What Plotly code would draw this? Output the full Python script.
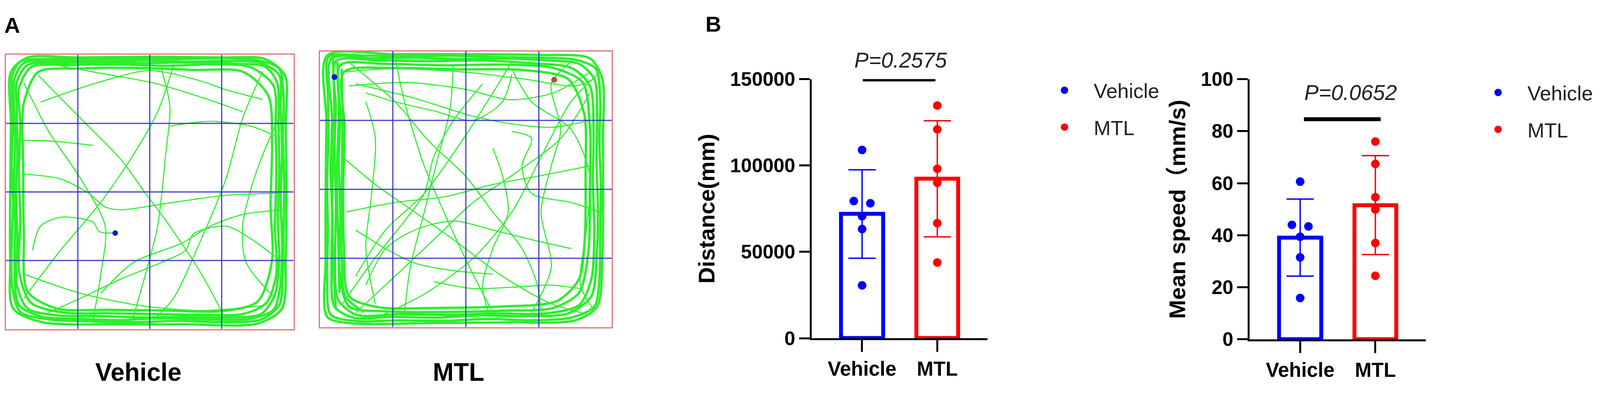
import plotly.graph_objects as go

##############################################
# Data
##############################################

GROUPS = ["Vehicle", "MTL"]

DIST_MEAN = [71900, 92300]
DIST_SD = [25600, 33600]
DIST_VEH = [109000, 79400, 78100, 70600, 63200, 30600]
DIST_MTL = [134700, 120900, 98100, 90000, 66600, 43800]

SPEED_MEAN = [39.1, 51.6]
SPEED_SD = [14.8, 19.0]
SPEED_VEH = [60.6, 44.0, 43.4, 39.4, 31.5, 15.9]
SPEED_MTL = [76.0, 67.4, 54.6, 49.9, 37.0, 24.4]

# horizontal scatter of the dots around the category centre
JIT_VEH = [0, -0.11, 0.11, 0, 0, 0]
JIT_MTL = [0, 0, 0, 0, 0, 0]

P_DIST = "P=0.2575"
P_SPEED = "P=0.0652"

# open field arena: 4 x 4 squares, coordinates in squares from top-left
ARENA = 4
GRID = [1, 2, 3]

VEH_LOOPS = [
    [(0.09, 0.30), (0.20, 0.10), (0.6, 0.06), (1.2, 0.07), (1.8, 0.05), (2.4, 0.06), (3.0, 0.05), (3.50, 0.08),
     (3.80, 0.20), (3.86, 0.6), (3.85, 1.2), (3.87, 1.9), (3.86, 2.6), (3.85, 3.2), (3.80, 3.65), (3.55, 3.86),
     (3.0, 3.90), (2.4, 3.88), (1.8, 3.90), (1.2, 3.89), (0.6, 3.86), (0.20, 3.75), (0.09, 3.4), (0.08, 2.8),
     (0.10, 2.2), (0.08, 1.6), (0.10, 1.0), (0.09, 0.30)],
    [(0.12, 0.35), (0.25, 0.12), (0.7, 0.09), (1.3, 0.10), (1.9, 0.08), (2.5, 0.10), (3.1, 0.09), (3.55, 0.12),
     (3.80, 0.30), (3.82, 0.8), (3.84, 1.4), (3.82, 2.1), (3.84, 2.8), (3.81, 3.4), (3.72, 3.72), (3.40, 3.85),
     (2.8, 3.86), (2.2, 3.84), (1.6, 3.87), (1.0, 3.85), (0.5, 3.82), (0.18, 3.65), (0.12, 3.1), (0.13, 2.5),
     (0.11, 1.9), (0.13, 1.2), (0.12, 0.35)],
    [(0.15, 0.40), (0.30, 0.15), (0.8, 0.12), (1.4, 0.11), (2.0, 0.12), (2.6, 0.11), (3.2, 0.13), (3.60, 0.17),
     (3.77, 0.40), (3.79, 1.0), (3.80, 1.7), (3.78, 2.4), (3.80, 3.0), (3.74, 3.5), (3.55, 3.78), (3.1, 3.83),
     (2.5, 3.82), (1.9, 3.83), (1.3, 3.81), (0.7, 3.80), (0.30, 3.70), (0.15, 3.35), (0.16, 2.7), (0.14, 2.0),
     (0.16, 1.4), (0.15, 0.8), (0.15, 0.40)],
    [(0.18, 0.50), (0.35, 0.18), (0.9, 0.15), (1.6, 0.14), (2.2, 0.16), (2.9, 0.14), (3.40, 0.18), (3.72, 0.45),
     (3.75, 1.1), (3.76, 1.8), (3.74, 2.5), (3.76, 3.2), (3.62, 3.62), (3.30, 3.78), (2.7, 3.79), (2.0, 3.78),
     (1.4, 3.77), (0.8, 3.76), (0.35, 3.62), (0.19, 3.2), (0.20, 2.4), (0.18, 1.7), (0.20, 1.0), (0.18, 0.50)],
    [(0.25, 0.70), (0.45, 0.25), (1.0, 0.20), (1.8, 0.19), (2.6, 0.22), (3.30, 0.25), (3.65, 0.6), (3.70, 1.3),
     (3.68, 2.2), (3.70, 3.0), (3.50, 3.6), (3.0, 3.74), (2.2, 3.73), (1.4, 3.72), (0.7, 3.70), (0.30, 3.45),
     (0.25, 2.6), (0.24, 1.6), (0.25, 0.70)],
    [(0.07, 0.25), (0.30, 0.04), (1.0, 0.04), (2.0, 0.03), (3.0, 0.04), (3.60, 0.06), (3.88, 0.30), (3.89, 1.0),
     (3.90, 2.0), (3.89, 3.0), (3.84, 3.70), (3.50, 3.92), (2.5, 3.93), (1.5, 3.93), (0.5, 3.90), (0.10, 3.70),
     (0.06, 3.0), (0.06, 2.0), (0.07, 1.0), (0.07, 0.25)],
]

VEH_PATHS = [
    [(0.45, 0.30), (1.04, 0.93), (1.60, 1.53), (1.94, 2.02), (2.28, 2.50), (2.72, 3.20), (3.06, 3.87)],
    [(0.25, 3.55), (0.76, 2.85), (1.32, 2.15), (1.77, 1.46), (2.11, 0.83), (2.33, 0.16)],
    [(0.48, 0.69), (1.26, 0.41), (1.99, 0.23), (2.67, 0.37), (3.06, 0.51), (3.57, 0.65)],
    [(0.17, 1.25), (0.65, 1.26), (1.21, 1.32)],
    [(3.79, 2.02), (3.06, 2.05), (2.28, 2.16), (1.60, 2.26), (1.38, 2.22), (1.15, 2.02), (0.76, 1.81), (0.25, 1.74)],
    [(1.52, 2.60), (1.30, 2.58), (1.21, 2.44), (0.76, 2.37), (0.48, 2.50), (0.37, 2.85)],
    [(2.16, 0.20), (2.28, 0.76), (2.22, 1.46), (2.11, 2.50), (1.94, 3.20), (1.77, 3.83)],
    [(3.57, 0.24), (3.29, 0.93), (3.06, 1.81), (2.72, 2.68), (2.33, 3.55), (2.05, 3.87)],
    [(3.85, 3.03), (3.40, 2.68), (3.06, 2.50), (2.61, 2.61), (2.50, 2.85), (2.16, 3.03), (1.60, 3.27), (1.04, 3.55),
     (0.59, 3.76)],
    [(0.25, 0.41), (0.59, 1.11), (1.04, 1.81), (1.38, 2.50), (1.32, 3.20), (1.21, 3.87)],
    [(2.28, 1.04), (2.84, 0.97), (3.40, 1.04), (3.74, 1.18)],
    [(3.79, 0.93), (3.57, 1.46), (3.40, 1.98), (3.29, 2.50), (3.34, 3.03), (3.74, 3.55)],
    [(0.59, 0.13), (1.32, 0.27), (2.05, 0.41), (2.72, 0.62), (3.29, 0.83)],
    [(0.25, 3.20), (1.04, 3.48), (1.88, 3.66), (2.72, 3.73), (3.57, 3.66)],
    [(1.32, 3.48), (1.77, 3.03), (2.44, 2.75), (2.84, 2.50), (3.29, 2.33), (3.85, 2.26)],
]

MTL_LOOPS = [
    [(0.12, 0.08), (0.6, 0.06), (1.2, 0.07), (1.8, 0.06), (2.4, 0.08), (3.0, 0.09), (3.50, 0.12), (3.78, 0.25),
     (3.84, 0.7), (3.83, 1.3), (3.85, 2.0), (3.84, 2.7), (3.83, 3.3), (3.76, 3.70), (3.45, 3.86), (2.9, 3.90),
     (2.3, 3.88), (1.7, 3.91), (1.1, 3.90), (0.5, 3.91), (0.15, 3.82), (0.10, 3.3), (0.11, 2.6), (0.10, 1.9),
     (0.12, 1.2), (0.11, 0.6), (0.12, 0.08)],
    [(0.16, 0.10), (0.7, 0.10), (1.3, 0.09), (1.9, 0.11), (2.5, 0.10), (3.1, 0.13), (3.55, 0.18), (3.76, 0.40),
     (3.80, 0.9), (3.79, 1.6), (3.81, 2.3), (3.79, 3.0), (3.72, 3.55), (3.40, 3.80), (2.8, 3.84), (2.2, 3.83),
     (1.6, 3.86), (1.0, 3.85), (0.45, 3.86), (0.20, 3.70), (0.16, 3.1), (0.17, 2.4), (0.15, 1.7), (0.17, 1.0),
     (0.16, 0.10)],
    [(0.22, 0.14), (0.8, 0.13), (1.5, 0.14), (2.2, 0.13), (2.9, 0.17), (3.45, 0.24), (3.70, 0.50), (3.75, 1.2),
     (3.74, 1.9), (3.76, 2.6), (3.72, 3.3), (3.55, 3.68), (3.1, 3.80), (2.4, 3.80), (1.8, 3.82), (1.1, 3.81),
     (0.5, 3.82), (0.25, 3.60), (0.21, 2.9), (0.22, 2.2), (0.20, 1.5), (0.22, 0.8), (0.22, 0.14)],
    [(0.28, 0.20), (0.9, 0.18), (1.7, 0.20), (2.5, 0.19), (3.2, 0.24), (3.60, 0.45), (3.70, 1.1), (3.70, 2.0),
     (3.68, 2.9), (3.55, 3.50), (3.20, 3.72), (2.5, 3.76), (1.7, 3.78), (0.9, 3.77), (0.40, 3.70), (0.27, 3.2),
     (0.28, 2.4), (0.26, 1.6), (0.28, 0.9), (0.28, 0.20)],
    [(0.33, 0.30), (1.0, 0.24), (1.9, 0.26), (2.8, 0.27), (3.40, 0.40), (3.62, 0.9), (3.64, 1.8), (3.63, 2.7),
     (3.55, 3.3), (3.25, 3.62), (2.5, 3.70), (1.6, 3.72), (0.8, 3.71), (0.40, 3.55), (0.33, 2.8), (0.32, 2.0),
     (0.34, 1.1), (0.33, 0.30)],
    [(0.10, 0.06), (1.0, 0.04), (2.0, 0.04), (3.0, 0.05), (3.70, 0.10), (3.87, 0.40), (3.88, 1.2), (3.88, 2.1),
     (3.87, 3.0), (3.80, 3.70), (3.50, 3.90), (2.5, 3.93), (1.5, 3.94), (0.4, 3.94), (0.10, 3.85), (0.08, 3.0),
     (0.08, 2.0), (0.09, 1.0), (0.10, 0.06)],
    [(0.30, 0.25), (0.31, 1.0), (0.30, 2.0), (0.30, 3.0), (0.35, 3.55), (0.60, 3.78)],
    [(0.18, 0.10), (0.20, 1.0), (0.17, 2.0), (0.18, 3.0), (0.22, 3.75)],
    [(0.24, 0.15), (0.26, 0.9), (0.23, 1.8), (0.25, 2.7), (0.27, 3.5)],
]

MTL_PATHS = [
    [(0.39, 0.15), (1.03, 0.73), (1.51, 1.32), (1.99, 1.80), (2.37, 2.33), (2.77, 2.86), (2.98, 3.39), (3.03, 3.79)],
    [(3.81, 0.33), (3.44, 0.73), (3.03, 1.53), (2.63, 2.33), (2.10, 3.00), (1.43, 3.52), (0.76, 3.87)],
    [(0.49, 3.26), (0.90, 2.59), (1.43, 2.06), (1.97, 1.26), (2.37, 0.60), (2.63, 0.15)],
    [(0.31, 1.53), (0.76, 1.93), (1.30, 2.33), (1.83, 2.73), (2.50, 3.26), (3.17, 3.66), (3.70, 3.82)],
    [(1.03, 0.09), (1.16, 0.73), (1.43, 1.66), (1.70, 2.33), (2.05, 3.13), (2.37, 3.79)],
    [(3.70, 0.60), (3.30, 1.26), (2.63, 1.80), (2.10, 2.19), (1.56, 2.73), (1.03, 3.26), (0.49, 3.79)],
    [(0.63, 0.73), (0.76, 1.26), (0.71, 2.06), (0.63, 2.86), (0.76, 3.66)],
    [(1.83, 0.20), (1.78, 0.86), (1.62, 1.53), (1.43, 2.33), (1.24, 3.13), (1.16, 3.79)],
    [(2.63, 0.25), (2.90, 0.73), (3.44, 1.13), (3.70, 1.80), (3.65, 2.59), (3.57, 3.39), (3.76, 3.76)],
    [(0.49, 0.47), (1.30, 0.68), (2.10, 0.94), (2.63, 1.05), (3.17, 1.10), (3.70, 1.00)],
    [(0.36, 2.33), (1.03, 2.19), (1.70, 2.11), (2.37, 1.93), (3.03, 1.80), (3.70, 1.66)],
    [(2.90, 3.79), (3.17, 3.13), (3.03, 2.33), (3.17, 1.66), (3.30, 1.13), (3.17, 0.47), (3.44, 0.15)],
    [(1.56, 3.34), (2.10, 3.44), (2.63, 3.42), (3.17, 3.39), (3.57, 3.44)],
    [(0.49, 2.59), (0.90, 2.86), (1.30, 3.07), (1.83, 3.18), (2.37, 3.23)],
    [(2.37, 1.40), (2.50, 1.80), (2.58, 2.33), (2.37, 2.86), (2.23, 3.39), (2.31, 3.79)],
    [(0.31, 3.66), (0.76, 2.99), (1.16, 2.46), (1.43, 2.06), (1.56, 1.53), (1.83, 1.00), (2.23, 0.47)],
    [(2.63, 0.33), (2.50, 0.73), (2.10, 1.00), (1.56, 0.86), (1.03, 0.73), (0.63, 0.60)],
    [(3.44, 2.86), (2.90, 2.73), (2.37, 2.59), (1.83, 2.46), (1.30, 2.59), (0.90, 2.86), (0.63, 3.39)],
    [(3.84, 2.33), (3.44, 2.19), (2.90, 2.06), (2.77, 1.66), (2.90, 1.26), (2.63, 1.16)],
    [(0.30, 0.30), (1.00, 0.25), (2.00, 0.30), (2.80, 0.40), (3.50, 0.50), (3.75, 0.40)],
    [(0.40, 0.50), (1.20, 0.45), (2.00, 0.55), (2.60, 0.70), (3.20, 0.60), (3.70, 0.30)],
]

# start / end markers of the tracks
VEH_DOTS_X, VEH_DOTS_Y, VEH_DOTS_C = [1.52], [2.60], ["#0a14d8"]
MTL_DOTS_X, MTL_DOTS_Y, MTL_DOTS_C = [0.20, 3.21], [0.37, 0.41], ["#0a14d8", "#b0502a"]

##############################################
# Style
##############################################

FONT = "Arial, Liberation Sans, Noto Sans CJK SC, sans-serif"
BLUE = "#0000ff"
RED = "#ff0000"
COLORS = [BLUE, RED]
GREEN = "rgb(45,238,45)"
GRID_BLUE = "rgba(45,45,200,0.9)"
BOX_RED = "#e07474"

fig = go.Figure()

########################################################
# Panel A: track plots
########################################################


def add_tracks(paths, width, xa, ya):
    xs, ys = [], []
    for p in paths:
        xs += [pt[0] for pt in p] + [None]
        ys += [pt[1] for pt in p] + [None]
    fig.add_trace(go.Scatter(
        x=xs, y=ys, mode="lines",
        line=dict(color=GREEN, width=width, shape="spline", smoothing=0.8),
        xaxis=xa, yaxis=ya, showlegend=False, hoverinfo="skip"
    ))


def add_grid(xa, ya):
    for g in GRID:
        fig.add_trace(go.Scatter(x=[g, g], y=[0, ARENA], mode="lines",
                                 line=dict(color=GRID_BLUE, width=3),
                                 xaxis=xa, yaxis=ya, showlegend=False, hoverinfo="skip"))
        fig.add_trace(go.Scatter(x=[0, ARENA], y=[g, g], mode="lines",
                                 line=dict(color=GRID_BLUE, width=3),
                                 xaxis=xa, yaxis=ya, showlegend=False, hoverinfo="skip"))


add_tracks(VEH_LOOPS, 6, "x", "y")
add_tracks(VEH_PATHS, 2.8, "x", "y")
add_grid("x", "y")
fig.add_trace(go.Scatter(x=VEH_DOTS_X, y=VEH_DOTS_Y, mode="markers",
                         marker=dict(color=VEH_DOTS_C, size=14),
                         xaxis="x", yaxis="y", showlegend=False))

add_tracks(MTL_LOOPS, 6, "x2", "y2")
add_tracks(MTL_PATHS, 2.8, "x2", "y2")
add_grid("x2", "y2")
fig.add_trace(go.Scatter(x=MTL_DOTS_X, y=MTL_DOTS_Y, mode="markers",
                         marker=dict(color=MTL_DOTS_C, size=15),
                         xaxis="x2", yaxis="y2", showlegend=False))

########################################################
# Panel B: bar + dot plots
########################################################


def add_bars(means, sds, veh, mtl, xa, ya, legend, tag):
    for i, (m, s) in enumerate(zip(means, sds)):
        fig.add_trace(go.Bar(
            x=[i], y=[m], width=0.56,
            marker=dict(color="rgba(0,0,0,0)", line=dict(color=COLORS[i], width=10)),
            error_y=dict(type="data", array=[s], color=COLORS[i], thickness=3.5, width=35),
            xaxis=xa, yaxis=ya, showlegend=False, hoverinfo="skip"
        ))
    for i, (vals, jit) in enumerate([(veh, JIT_VEH), (mtl, JIT_MTL)]):
        fig.add_trace(go.Scatter(
            x=[i + j for j in jit], y=vals, mode="markers", name=GROUPS[i],
            marker=dict(color=COLORS[i], size=19, line=dict(color=COLORS[i], width=3)),
            xaxis=xa, yaxis=ya, legend=legend, legendgroup=tag + GROUPS[i]
        ))


add_bars(DIST_MEAN, DIST_SD, DIST_VEH, DIST_MTL, "x3", "y3", "legend", "d")
add_bars(SPEED_MEAN, SPEED_SD, SPEED_VEH, SPEED_MTL, "x4", "y4", "legend2", "s")

########################################################
# Axes
########################################################

arena_x = dict(range=[0, ARENA], showgrid=False, zeroline=False, showticklabels=False,
               ticks="", showline=True, mirror=True, linecolor=BOX_RED, linewidth=2.5)
arena_y = dict(range=[ARENA, 0], showgrid=False, zeroline=False, showticklabels=False,
               ticks="", showline=True, mirror=True, linecolor=BOX_RED, linewidth=2.5)

tick_font = dict(family=FONT, size=50, color="black", weight="bold")
title_font = dict(family=FONT, size=58, color="black", weight="bold")

bar_x = dict(range=[-0.67, 1.67], tickvals=[0, 1], ticktext=GROUPS, ticks="outside",
             ticklen=30, tickwidth=5, tickcolor="black", showline=True, linewidth=5,
             linecolor="black", showgrid=False, zeroline=False,
             tickfont=dict(family=FONT, size=51, color="black", weight="bold"))
bar_y = dict(ticks="outside", ticklen=27, tickwidth=5, tickcolor="black", showline=True,
             linewidth=5, linecolor="black", showgrid=False, zeroline=False,
             tickfont=tick_font, tickformat="d")

legend_font = dict(family=FONT, size=52, color="#222")

# the figure fills the browser window (4317 x 1014), so no fixed width/height here
fig.update_layout(
    autosize=True,
    margin=dict(l=0, r=0, t=0, b=0),
    paper_bgcolor="white",
    plot_bgcolor="white",
    bargap=0,
    xaxis=dict(domain=[0.0037, 0.1835], anchor="y", **arena_x),
    yaxis=dict(domain=[0.1489, 0.8826], anchor="x", **arena_y),
    xaxis2=dict(domain=[0.1999, 0.3824], anchor="y2", **arena_x),
    yaxis2=dict(domain=[0.1538, 0.8915], anchor="x2", **arena_y),
    xaxis3=dict(domain=[0.5073, 0.6173], anchor="y3", **bar_x),
    yaxis3=dict(domain=[0.1243, 0.8176], anchor="x3", range=[0, 150000],
                tickvals=[0, 50000, 100000, 150000],
                title=dict(text="Distance(mm)", font=title_font, standoff=22), **bar_y),
    xaxis4=dict(domain=[0.7811, 0.8911], anchor="y4", **bar_x),
    yaxis4=dict(domain=[0.1213, 0.8176], anchor="x4", range=[0, 100],
                tickvals=[0, 20, 40, 60, 80, 100],
                title=dict(text="Mean speed（mm/s)", font=title_font, standoff=22), **bar_y),
    legend=dict(x=0.647, y=0.830, xanchor="left", yanchor="top", itemwidth=140,
                traceorder="grouped", tracegroupgap=24, bgcolor="rgba(0,0,0,0)",
                font=legend_font),
    legend2=dict(x=0.918, y=0.824, xanchor="left", yanchor="top", itemwidth=140,
                 traceorder="grouped", tracegroupgap=24, bgcolor="rgba(0,0,0,0)",
                 font=legend_font),
)

########################################################
# Significance bars, P values and panel labels
########################################################

fig.add_shape(type="line", xref="x3", yref="y3", x0=0.01, x1=0.975, y0=149800, y1=149800,
              line=dict(color="black", width=10))
fig.add_shape(type="line", xref="x4", yref="y4", x0=0.05, x1=1.07, y0=84.6, y1=84.6,
              line=dict(color="black", width=10))

p_font = dict(family=FONT, size=55, color="#222", style="italic")
fig.add_annotation(x=0.51, y=1.0735, xref="x3", yref="y3 domain", yanchor="middle",
                   text=P_DIST, showarrow=False, font=p_font)
fig.add_annotation(x=0.67, y=94.9, xref="x4", yref="y4", yanchor="middle",
                   text=P_SPEED, showarrow=False, font=p_font)

label_font = dict(family=FONT, size=56, color="black", weight="bold")
fig.add_annotation(x=33 / 4317, y=1 - 39 / 1014, xref="paper", yref="paper", text="A",
                   xanchor="center", yanchor="middle", showarrow=False, font=label_font)
fig.add_annotation(x=1925 / 4317, y=1 - 36 / 1014, xref="paper", yref="paper", text="B",
                   xanchor="center", yanchor="middle", showarrow=False, font=label_font)

arena_font = dict(family=FONT, size=64, color="black", weight="bold")
fig.add_annotation(x=374 / 4317, y=1 - 980 / 1014, xref="paper", yref="paper", text=GROUPS[0],
                   xanchor="center", yanchor="middle", showarrow=False, font=arena_font)
fig.add_annotation(x=1237 / 4317, y=1 - 980 / 1014, xref="paper", yref="paper", text=GROUPS[1],
                   xanchor="center", yanchor="middle", showarrow=False, font=arena_font)

# page margin off so the figure sits exactly in the window
fig.write_html("out.html", config={"displayModeBar": False, "responsive": True},
               default_width="100vw", default_height="100vh",
               post_script="document.body.style.margin='0';"
                           "document.documentElement.style.overflow='hidden';")
